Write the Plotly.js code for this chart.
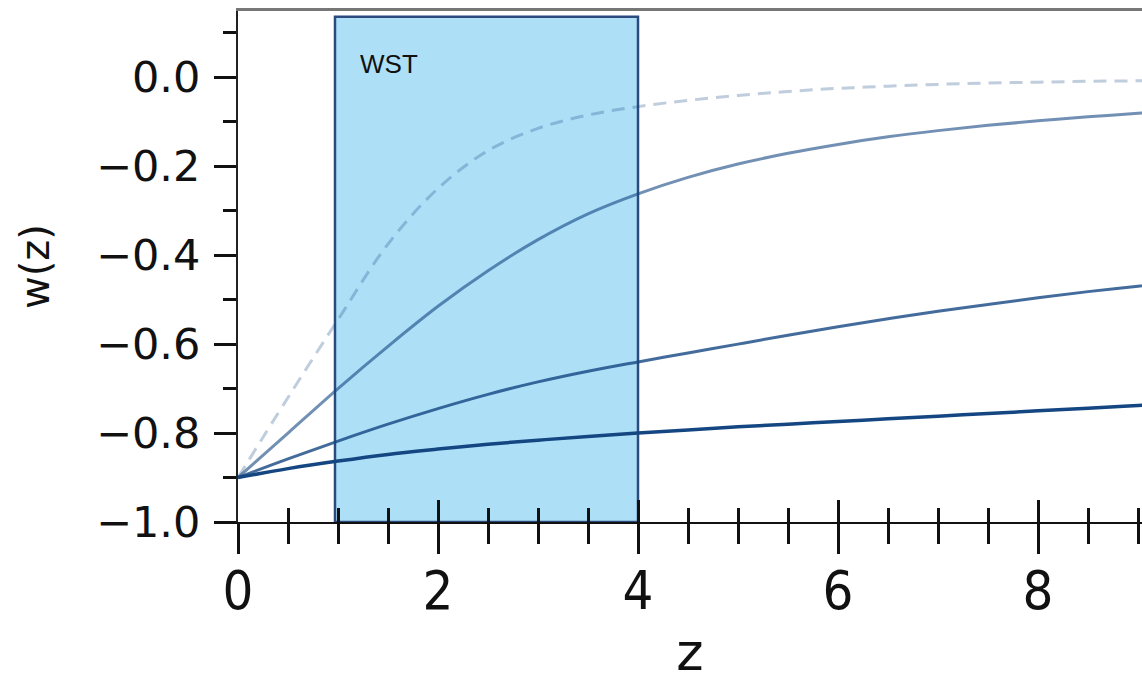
<!DOCTYPE html>
<html>
<head>
<meta charset="utf-8">
<script src="https://cdn.plot.ly/plotly-3.0.1.min.js"></script>
<style>html,body{margin:0;padding:0;background:#fff;}#chart{width:1142px;height:682px;}</style>
</head>
<body>
<div id="chart"></div>
<script>
// redshift grid
const z = [0, 0.5, 1, 1.5, 2, 2.5, 3, 3.5, 4, 4.5, 5, 5.5, 6, 6.5, 7, 7.5, 8, 8.5, 9, 9.5];
// w(z) curves
const wDashed = [-0.9, -0.72, -0.545, -0.375, -0.25, -0.165, -0.115, -0.085, -0.066, -0.052, -0.041, -0.032, -0.025, -0.02, -0.016, -0.013, -0.011, -0.009, -0.008, -0.007];
const wCurve2 = [-0.9, -0.80, -0.70, -0.605, -0.515, -0.435, -0.365, -0.307, -0.262, -0.225, -0.195, -0.171, -0.151, -0.134, -0.12, -0.108, -0.098, -0.089, -0.081, -0.074];
const wCurve3 = [-0.9, -0.858, -0.818, -0.78, -0.745, -0.713, -0.685, -0.661, -0.64, -0.62, -0.60, -0.58, -0.561, -0.543, -0.526, -0.511, -0.496, -0.482, -0.47, -0.458];
const wCurve4 = [-0.9, -0.88, -0.863, -0.848, -0.836, -0.825, -0.816, -0.808, -0.80, -0.793, -0.786, -0.78, -0.774, -0.768, -0.762, -0.756, -0.75, -0.744, -0.738, -0.733];
// WST redshift window
const wstRange = [0.97, 4];
const wstTop = 0.136;
const wstLabel = 'WST';
// axes
const xRange = [0, 9.04];
const yRange = [-1.0, 0.149];
const xTicks = [0, 2, 4, 6, 8];
const yTicks = [-1.0, -0.8, -0.6, -0.4, -0.2, 0.0];

const base = 'rgba(20,70,130,';
const traces = [
  {x: z, y: wDashed, mode: 'lines', line: {color: base + '0.27)', width: 3, dash: '13px,8px', shape: 'spline', smoothing: 1}, showlegend: false, hoverinfo: 'skip'},
  {x: z, y: wCurve2, mode: 'lines', line: {color: base + '0.6)', width: 3, shape: 'spline', smoothing: 1}, showlegend: false, hoverinfo: 'skip'},
  {x: z, y: wCurve3, mode: 'lines', line: {color: base + '0.8)', width: 3, shape: 'spline', smoothing: 1}, showlegend: false, hoverinfo: 'skip'},
  {x: z, y: wCurve4, mode: 'lines', line: {color: base + '1)', width: 3.5, shape: 'spline', smoothing: 1}, showlegend: false, hoverinfo: 'skip'},
  {x: [null], y: [null], xaxis: 'x2', mode: 'lines', showlegend: false, hoverinfo: 'skip'},
  {x: [null], y: [null], xaxis: 'x3', mode: 'lines', showlegend: false, hoverinfo: 'skip'}
];

const layout = {
  width: 1142, height: 682, autosize: false,
  margin: {l: 238, r: 0, t: 11, b: 160, pad: 0},
  paper_bgcolor: '#fff', plot_bgcolor: '#fff',
  showlegend: false,
  xaxis: {
    range: xRange, tickmode: 'array', tickvals: xTicks, ticktext: xTicks.map(String),
    ticks: 'outside', ticklen: 30, tickwidth: 3, tickcolor: '#111',
    minor: {ticks: 'outside', ticklen: 20, tickwidth: 3, tickcolor: '#111', dtick: 0.5, tick0: 0, showgrid: false},
    showline: true, linecolor: '#111', linewidth: 2, showgrid: false, zeroline: false,
    ticklabelstandoff: -10,
    tickfont: {family: 'Liberation Sans Narrow, DejaVu Sans Condensed, sans-serif', size: 54, color: '#111'},
    title: {text: 'z', font: {family: 'DejaVu Sans, sans-serif', size: 52, color: '#111'}, standoff: 28}
  },
  xaxis2: {
    overlaying: 'x', side: 'bottom', range: xRange, tickmode: 'array', tickvals: xTicks,
    showticklabels: false, ticks: 'inside', ticklen: 22, tickwidth: 3, tickcolor: '#111',
    minor: {ticks: 'inside', ticklen: 14, tickwidth: 3, tickcolor: '#111', dtick: 0.5, tick0: 0, showgrid: false},
    showline: false, showgrid: false, zeroline: false
  },
  xaxis3: {
    overlaying: 'x', side: 'top', range: xRange, showticklabels: false, ticks: '',
    showline: true, linecolor: '#777', linewidth: 3, showgrid: false, zeroline: false
  },
  yaxis: {
    range: yRange, tickmode: 'array', tickvals: yTicks, ticktext: yTicks.map(v => (v < 0 ? '\u2212' : '') + Math.abs(v).toFixed(1)),
    ticks: 'outside', ticklen: 22, tickwidth: 3, tickcolor: '#111',
    minor: {ticks: 'outside', ticklen: 13, tickwidth: 3, tickcolor: '#111', dtick: 0.1, tick0: 0, showgrid: false},
    showline: true, linecolor: '#222', linewidth: 2, showgrid: false, zeroline: false,
    ticklabelstandoff: 5,
    tickfont: {family: 'DejaVu Sans, sans-serif', size: 43, color: '#111'},
    title: {text: 'w(z)', font: {family: 'DejaVu Sans, sans-serif', size: 40, color: '#111'}, standoff: 34}
  },
  shapes: [{
    type: 'rect', layer: 'below', xref: 'x', yref: 'y',
    x0: wstRange[0], x1: wstRange[1], y0: yRange[0], y1: wstTop,
    fillcolor: '#ade0f7', line: {color: '#2b4b7f', width: 2.5}
  }],
  annotations: [{
    xref: 'x', yref: 'y', x: 1.2, y: 0.03, xanchor: 'left', yanchor: 'middle',
    text: wstLabel, showarrow: false,
    font: {family: 'Liberation Sans, Open Sans, sans-serif', size: 26, color: '#111'}
  }]
};

Plotly.newPlot('chart', traces, layout, {staticPlot: true, displayModeBar: false});
</script>
</body>
</html>
